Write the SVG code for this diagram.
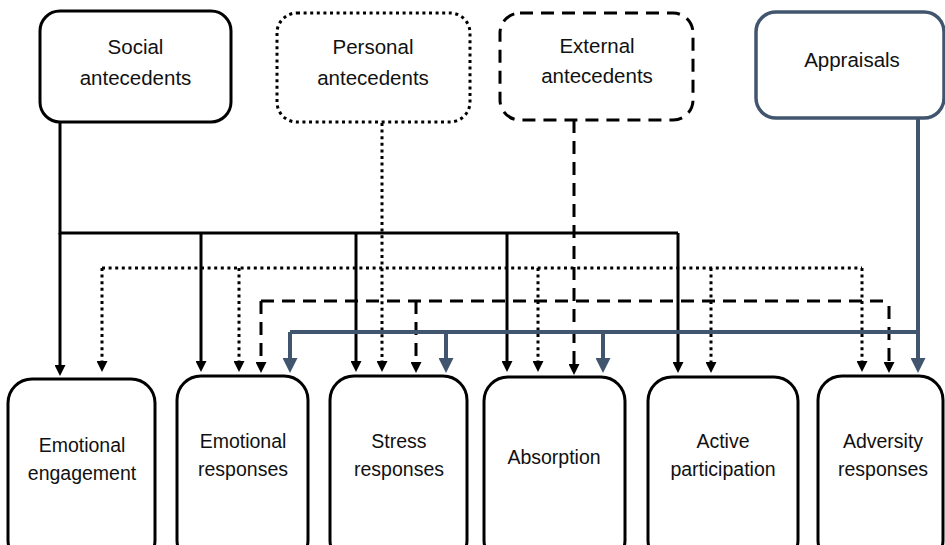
<svg xmlns="http://www.w3.org/2000/svg" width="945" height="545" viewBox="0 0 945 545">
<style>
text{font-family:"Liberation Sans",Arial,sans-serif;fill:#111;text-anchor:middle}
.top{font-size:20.5px}
.bot{font-size:19.5px}
.box{fill:#fff;stroke:#000;stroke-width:3}
.dot{stroke-dasharray:3 3.6}
.dash{stroke-dasharray:13 8}
.blue{fill:#fff;stroke:#41566e;stroke-width:3.5}
.c{fill:none;stroke:#000;stroke-width:3}
.cb{fill:none;stroke:#41566e;stroke-width:4}
.ar{marker-end:url(#ak)}
.arb{marker-end:url(#ab)}
</style>
<defs>
<marker id="ak" markerUnits="userSpaceOnUse" markerWidth="11" markerHeight="11" refX="0" refY="5.5" orient="auto"><path d="M0,0 L11,5.5 L0,11 z" fill="#000"/></marker>
<marker id="ab" markerUnits="userSpaceOnUse" markerWidth="15" markerHeight="15" refX="0" refY="7.5" orient="auto"><path d="M0,0 L15,7.5 L0,15 z" fill="#41566e"/></marker>
</defs>
<g id="connectors">
<path class="c" d="M60,122 V233 H678"/>
<path class="c ar" d="M60,233 V365"/>
<path class="c ar" d="M201,233 V361"/>
<path class="c ar" d="M356,233 V361"/>
<path class="c ar" d="M507,233 V361"/>
<path class="c ar" d="M678,233 V362"/>
<path class="c dot" d="M102,268 H862"/>
<path class="c dot ar" d="M382,123 V361"/>
<path class="c dot ar" d="M102,268 V361"/>
<path class="c dot ar" d="M239,268 V361"/>
<path class="c dot ar" d="M538,268 V361"/>
<path class="c dot ar" d="M711,268 V362"/>
<path class="c dot ar" d="M862,268 V361"/>
<path class="c dash" d="M261,301 H889"/>
<path class="c dash ar" d="M574,120 V364"/>
<path class="c dash ar" d="M261,301 V362"/>
<path class="c dash ar" d="M416,301 V362"/>
<path class="c dash ar" d="M889,306 V362"/>
<path class="cb" d="M918,117 V332 H290"/>
<path class="cb arb" d="M290,332 V358"/>
<path class="cb arb" d="M446,332 V358"/>
<path class="cb arb" d="M603,332 V358"/>
<path class="cb arb" d="M918,332 V358"/>
</g>
<g id="social"><rect class="box" x="40" y="11" width="191" height="111" rx="20"/><text class="top" x="135.5" y="54">Social</text><text class="top" x="135.5" y="85">antecedents</text></g>
<g id="personal"><rect class="box dot" x="277" y="13" width="193" height="109" rx="20"/><text class="top" x="373" y="54">Personal</text><text class="top" x="373" y="85">antecedents</text></g>
<g id="external"><rect class="box dash" x="500" y="13" width="193" height="107" rx="20"/><text class="top" x="597" y="53">External</text><text class="top" x="597" y="83">antecedents</text></g>
<g id="appraisals"><rect class="blue" x="756" y="12" width="188" height="106" rx="20"/><text class="top" x="852" y="67">Appraisals</text></g>
<g id="emotional-engagement"><rect class="box" x="8" y="379" width="147" height="185" rx="24"/><text class="bot" x="82" y="452">Emotional</text><text class="bot" x="82" y="480">engagement</text></g>
<g id="emotional-responses"><rect class="box" x="177" y="376" width="131" height="188" rx="24"/><text class="bot" x="243" y="448">Emotional</text><text class="bot" x="243" y="476">responses</text></g>
<g id="stress-responses"><rect class="box" x="330" y="376" width="137" height="188" rx="24"/><text class="bot" x="399" y="448">Stress</text><text class="bot" x="399" y="476">responses</text></g>
<g id="absorption"><rect class="box" x="484" y="377" width="141" height="187" rx="24"/><text class="bot" x="554" y="464">Absorption</text></g>
<g id="active-participation"><rect class="box" x="648" y="377" width="150" height="187" rx="24"/><text class="bot" x="723" y="448">Active</text><text class="bot" x="723" y="476">participation</text></g>
<g id="adversity-responses"><rect class="box" x="818" y="376" width="125" height="188" rx="24"/><text class="bot" x="883" y="448">Adversity</text><text class="bot" x="883" y="476">responses</text></g>
</svg>
